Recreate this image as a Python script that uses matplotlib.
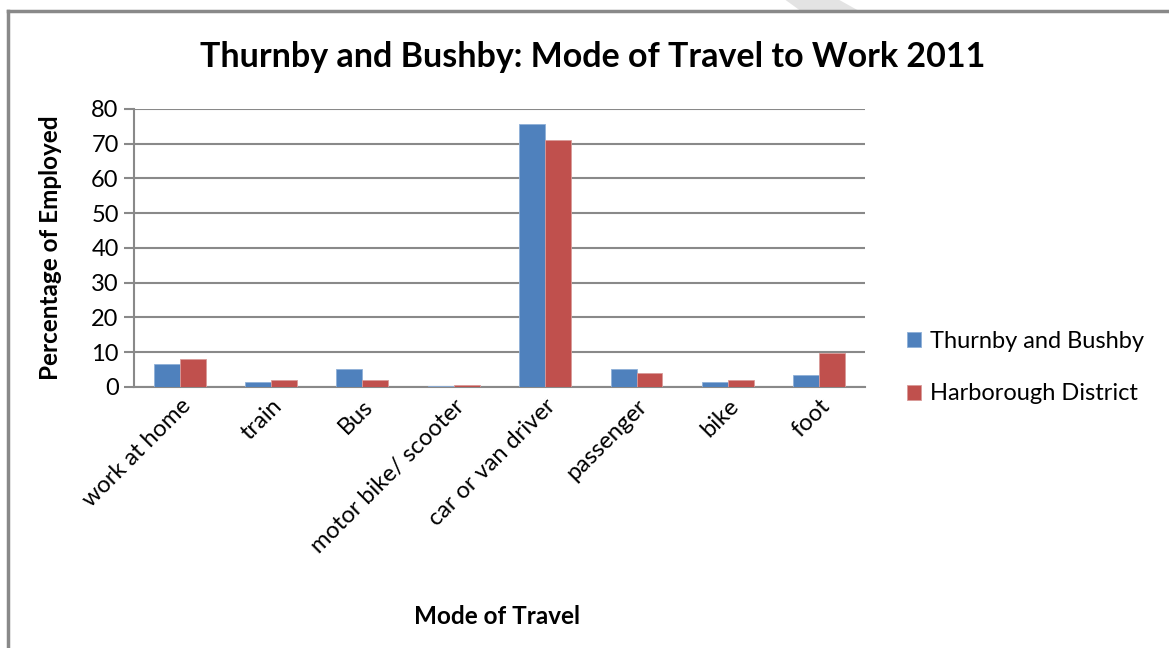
import numpy as np
import matplotlib.pyplot as plt
from matplotlib.patches import Polygon

plt.rcParams['font.family'] = ['Lato', 'DejaVu Sans']

modes = ['work at home', 'train', 'Bus', 'motor bike/ scooter',
         'car or van driver', 'passenger', 'bike', 'foot']
thurnby = [6.6, 1.5, 5.1, 0.4, 75.6, 5.1, 1.5, 3.5]
harborough = [8.1, 1.9, 1.9, 0.5, 71.0, 4.1, 1.9, 9.7]
series_names = ['Thurnby and Bushby', 'Harborough District']

blue = '#4F81BD'
red = '#C0504D'
grey = '#898989'

fig = plt.figure(figsize=(11.69, 6.48), dpi=100)
ax = fig.add_axes([0.1146, 0.4028, 0.6253, 0.4290])

x = np.arange(len(modes))
w = 0.284
ax.bar(x - w / 2, thurnby, w, color=blue, edgecolor='#8fb0d8', linewidth=0.6,
       label=series_names[0], zorder=3)
ax.bar(x + w / 2, harborough, w, color=red, edgecolor='#d99a98', linewidth=0.6,
       label=series_names[1], zorder=3)

ax.set_xlim(-0.5, len(modes) - 0.5)
ax.set_ylim(0, 80)
ax.set_yticks(range(0, 81, 10))
ax.yaxis.grid(True, color=grey, linewidth=1.5)
ax.set_axisbelow(True)

for side in ['top', 'right']:
    ax.spines[side].set_visible(False)
for side in ['left', 'bottom']:
    ax.spines[side].set_color(grey)
    ax.spines[side].set_linewidth(1.5)

ax.tick_params(axis='y', length=7, width=1.5, color=grey, labelsize=17, pad=4)
ax.tick_params(axis='x', length=0, labelsize=17, pad=6)
ax.set_xticks(x)
ax.set_xticklabels(modes, rotation=45, ha='right', rotation_mode='anchor')

ax.set_ylabel('Percentage of Employed', fontsize=17.5, fontweight='bold')
ax.yaxis.set_label_coords(-0.098, 0.5)
ax.set_xlabel('Mode of Travel', fontsize=17.5, fontweight='bold')
ax.xaxis.set_label_coords(0.497, -0.785)

fig.text(0.507, 0.912, 'Thurnby and Bushby: Mode of Travel to Work 2011',
         ha='center', va='center', fontsize=24.5, fontweight='bold')

ax.legend(loc='center left', bbox_to_anchor=(1.028, 0.07), frameon=False,
          fontsize=17, handlelength=0.6, handleheight=0.6, handletextpad=0.4,
          labelspacing=1.35)

# page frame and watermark strip
fig.add_artist(Polygon([[0.672, 1.0], [0.718, 1.0], [0.735, 0.983], [0.685, 0.983]],
                       closed=True, transform=fig.transFigure, color='#e3e3e3', lw=0))
fig.add_artist(plt.Line2D([0.007, 1.0], [0.983, 0.983], transform=fig.transFigure,
                          color=grey, linewidth=2.5))
fig.add_artist(plt.Line2D([0.007, 0.007], [0.0, 0.983], transform=fig.transFigure,
                          color=grey, linewidth=2.5))

fig.savefig('out.png', dpi=100)
